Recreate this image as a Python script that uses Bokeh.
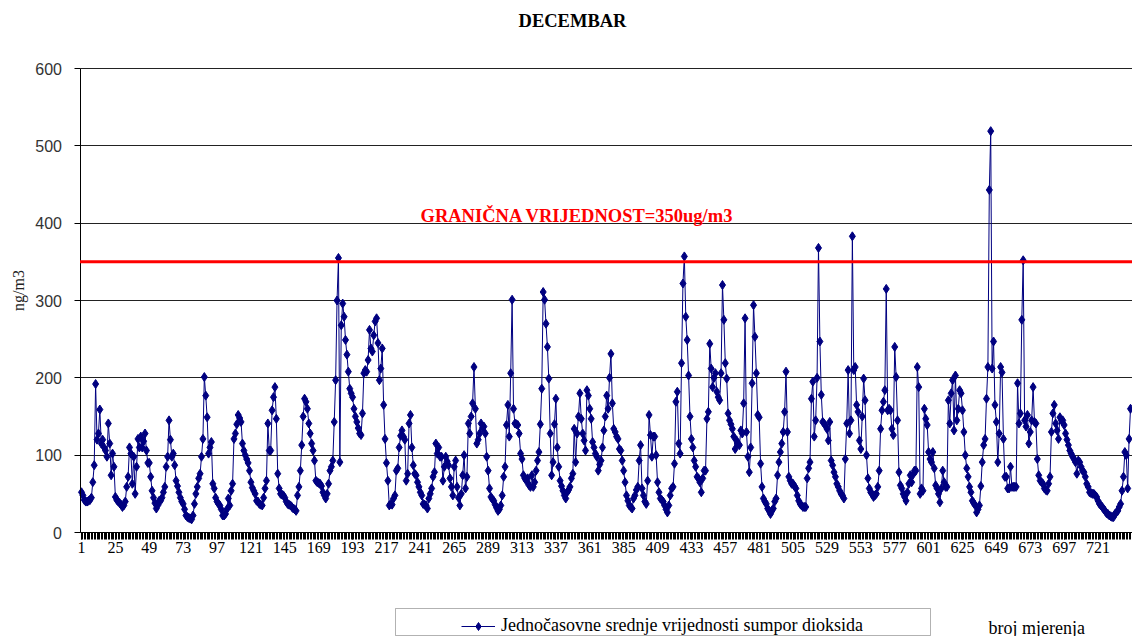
import math
from bokeh.plotting import figure
from bokeh.models import (Label, Legend, LegendItem, FixedTicker, BoxAnnotation,
                          Range1d, ColumnDataSource)
from bokeh.embed import file_html
from bokeh.resources import INLINE

# ---- data: hourly SO2 values, December (24 values per day) ----
day01 = [52, 48, 42, 40, 40, 41, 42, 45, 65, 87, 192, 120, 128, 159, 115, 120, 110, 106, 98, 141, 115, 74, 102, 85]
day02 = [46, 42, 40, 38, 36, 33, 35, 40, 59, 72, 110, 102, 63, 98, 50, 85, 121, 110, 124, 110, 118, 128, 106, 90]
day03 = [90, 72, 54, 45, 38, 31, 35, 41, 41, 45, 52, 59, 85, 98, 145, 120, 98, 102, 87, 67, 60, 52, 45, 40]
day04 = [37, 30, 22, 20, 19, 18, 17, 22, 37, 50, 59, 70, 76, 98, 121, 201, 177, 149, 102, 110, 117, 63, 57, 45]
day05 = [40, 37, 35, 30, 22, 22, 24, 30, 44, 35, 54, 63, 121, 128, 140, 152, 148, 143, 115, 106, 100, 95, 90, 80]
day06 = [65, 58, 54, 50, 41, 40, 37, 36, 35, 45, 57, 67, 141, 106, 106, 158, 175, 188, 147, 76, 57, 50, 49, 48]
day07 = [45, 40, 37, 36, 35, 33, 31, 30, 28, 48, 59, 80, 113, 150, 173, 169, 160, 141, 128, 115, 106, 93, 67, 65]
day08 = [64, 63, 60, 52, 48, 44, 50, 63, 80, 85, 93, 143, 197, 300, 355, 91, 268, 296, 279, 249, 230, 208, 186, 180]
day09 = [175, 160, 150, 143, 135, 128, 126, 154, 206, 210, 208, 223, 262, 238, 234, 255, 273, 277, 245, 197, 212, 238, 165, 121]
day10 = [90, 67, 35, 37, 36, 44, 48, 80, 83, 110, 125, 132, 124, 120, 67, 76, 141, 152, 110, 87, 76, 74, 65, 59]
day11 = [52, 48, 37, 36, 35, 31, 44, 50, 57, 72, 78, 115, 102, 110, 98, 98, 67, 85, 98, 92, 87, 70, 59, 48]
day12 = [85, 93, 59, 45, 35, 50, 74, 100, 57, 72, 141, 128, 150, 167, 214, 160, 115, 120, 128, 141, 135, 137, 128, 98]
day13 = [80, 57, 46, 43, 41, 36, 32, 28, 30, 35, 48, 72, 85, 139, 165, 124, 206, 301, 160, 141, 140, 139, 128, 102]
day14 = [95, 74, 70, 67, 70, 61, 59, 74, 59, 65, 80, 93, 104, 140, 186, 311, 301, 270, 240, 199, 128, 74, 91, 140]
day15 = [173, 110, 85, 67, 60, 54, 48, 44, 52, 55, 59, 70, 76, 134, 91, 128, 150, 180, 147, 128, 119, 106, 184, 177]
day16 = [160, 147, 117, 110, 102, 98, 80, 88, 93, 110, 132, 150, 177, 160, 200, 231, 167, 134, 130, 124, 121, 108, 106, 93]
day17 = [80, 65, 48, 41, 35, 33, 31, 44, 48, 55, 59, 93, 113, 57, 48, 40, 37, 67, 152, 126, 98, 124, 124, 100]
day18 = [65, 52, 44, 42, 40, 35, 30, 26, 35, 48, 57, 59, 89, 169, 182, 115, 102, 219, 322, 357, 279, 249, 203, 150]
day19 = [121, 110, 93, 85, 72, 70, 65, 52, 70, 80, 80, 147, 156, 244, 212, 188, 200, 206, 182, 175, 171, 206, 320, 275]
day20 = [219, 199, 154, 145, 140, 134, 124, 108, 119, 115, 113, 132, 128, 167, 277, 130, 98, 78, 110, 193, 294, 253, 206, 152]
day21 = [149, 89, 59, 44, 40, 37, 31, 28, 24, 28, 31, 40, 44, 74, 91, 104, 115, 130, 156, 208, 130, 72, 67, 63]
day22 = [63, 60, 57, 48, 41, 37, 35, 33, 33, 33, 70, 83, 91, 173, 195, 124, 145, 200, 368, 247, 178, 143, 141, 138]
day23 = [134, 119, 143, 93, 87, 78, 72, 63, 59, 54, 50, 48, 44, 95, 141, 210, 128, 145, 383, 210, 214, 165, 156, 119]
day24 = [108, 150, 199, 171, 100, 70, 57, 52, 50, 46, 48, 50, 59, 80, 134, 158, 169, 184, 315, 158, 160, 158, 134, 126]
day25 = [240, 201, 145, 78, 61, 57, 50, 46, 41, 52, 63, 74, 65, 75, 80, 80, 214, 188, 50, 57, 54, 160, 147, 139]
day26 = [104, 95, 91, 104, 83, 61, 57, 50, 39, 57, 80, 65, 59, 59, 171, 141, 180, 197, 132, 203, 145, 160, 184, 180]
day27 = [158, 130, 100, 83, 72, 59, 52, 41, 38, 35, 26, 30, 35, 60, 91, 113, 121, 173, 214, 443, 519, 212, 247, 165]
day28 = [143, 91, 128, 214, 207, 121, 72, 72, 57, 57, 85, 59, 59, 59, 59, 193, 141, 154, 275, 352, 145, 137, 152, 115]
day29 = [130, 145, 188, 143, 141, 95, 74, 67, 65, 63, 57, 55, 54, 63, 72, 130, 154, 165, 141, 132, 121, 149, 145, 145]
day30 = [139, 128, 120, 113, 106, 102, 98, 95, 91, 76, 93, 91, 85, 80, 78, 72, 63, 59, 52, 51, 50, 50, 48, 46]
day31 = [41, 37, 35, 33, 30, 28, 25, 24, 22, 21, 20, 20, 24, 26, 28, 33, 37, 54, 72, 104, 100, 57, 121, 160]

days = [day01, day02, day03, day04, day05, day06, day07, day08, day09, day10, day11,
        day12, day13, day14, day15, day16, day17, day18, day19, day20, day21, day22,
        day23, day24, day25, day26, day27, day28, day29, day30, day31]
values = [v for d in days for v in d]
hours = list(range(1, len(values) + 1))

x_tick_labels = list(range(1, 745, 24))      # 1, 25, 49, ... 721
y_tick_labels = [0, 100, 200, 300, 400, 500, 600]
limit_value = 350

title_text = "DECEMBAR"
limit_text = "GRANIČNA VRIJEDNOST=350ug/m3"
series_name = "Jednočasovne srednje vrijednosti sumpor dioksida"
y_title = "ng/m3"
x_title = "broj mjerenja"

SERIF = "Liberation Serif"
NAVY = "#000080"

# layout geometry (pixels); the frame covers the whole canvas
W, H = 1132, 636
AXIS_PX = 79.5             # y axis line position
Y0_PX, Y600_PX = 532, 68   # where 0 and 600 sit
X1_PX, X744_PX = 81, 1130  # where hour 1 and hour 744 sit

ky = (Y0_PX - Y600_PX) / 600.0
y_lo = -(H - Y0_PX) / ky
y_hi = 600 + Y600_PX / ky
kx = (X744_PX - X1_PX) / 743.0
x_lo = 1 - X1_PX / kx
x_hi = x_lo + W / kx

def xd(px):   # screen x -> data x
    return x_lo + px / kx

def yd(py):   # screen y -> data y
    return (Y0_PX - py) / ky

x_axis_start = xd(AXIS_PX)

src = ColumnDataSource(data=dict(x=hours, y=values))

p = figure(width=W, height=H, output_backend="svg", toolbar_location=None,
           x_range=Range1d(x_lo, x_hi), y_range=Range1d(y_lo, y_hi),
           min_border_left=0, min_border_right=0, min_border_top=0, min_border_bottom=0)
p.outline_line_color = None
p.background_fill_color = "white"
p.border_fill_color = "white"

# grid (horizontal lines only, from the y axis to the right edge)
p.xgrid.visible = False
p.ygrid.ticker = FixedTicker(ticks=y_tick_labels)
p.ygrid.grid_line_color = "#222222"
p.ygrid.grid_line_width = 1
if "cross_bounds" in p.ygrid.properties():
    p.ygrid.cross_bounds = (x_axis_start, x_hi)
else:
    p.add_layout(BoxAnnotation(right=x_axis_start, fill_color="white", fill_alpha=1,
                               line_color=None, level="underlay"))

# y axis, drawn at the left edge of the data area
ya = p.yaxis[0]
ya.fixed_location = x_axis_start
ya.ticker = FixedTicker(ticks=y_tick_labels)
ya.bounds = (0, 600)
ya.axis_line_color = "black"
ya.major_tick_line_color = "black"
ya.major_tick_out = 6
ya.major_tick_in = 0
ya.minor_tick_line_color = None
ya.major_label_text_font = "Liberation Sans"
ya.major_label_text_font_size = "16px"
ya.major_label_text_color = "#333333"
ya.major_label_standoff = 12

# x axis, drawn at y = 0
xa = p.xaxis[0]
xa.fixed_location = 0
xa.bounds = (x_axis_start, x_hi)
xa.ticker = FixedTicker(ticks=x_tick_labels, minor_ticks=hours)
xa.axis_line_color = "black"
xa.major_tick_line_color = "black"
xa.major_tick_out = 7
xa.major_tick_in = 0
xa.minor_tick_line_color = "black"
xa.minor_tick_out = 7
xa.minor_tick_in = 0
xa.major_label_text_font = SERIF
xa.major_label_text_font_size = "16px"
xa.major_label_text_color = "black"
xa.major_label_standoff = 2

# y axis title
p.add_layout(Label(x=xd(18), y=yd(290), text=y_title, angle=math.pi / 2, text_color="#222222",
                   text_font=SERIF, text_font_size="16px",
                   text_align="center", text_baseline="middle"))

# limit line (3 px thick) and its label
half = 1.5 / ky
p.add_layout(BoxAnnotation(left=x_axis_start, bottom=limit_value - half, top=limit_value + half,
                           fill_color="#ff0000", fill_alpha=1, line_color=None))
p.add_layout(Label(x=xd(420), y=yd(215), text=limit_text, text_color="#ff0000", text_font=SERIF,
                   text_font_size="18.5px", text_font_style="bold", text_baseline="middle"))

# title
p.add_layout(Label(x=xd(572), y=yd(20), text=title_text, text_color="black", text_font=SERIF,
                   text_font_size="18.5px", text_font_style="bold",
                   text_align="center", text_baseline="middle"))

# series
line_r = p.line("x", "y", source=src, line_color=NAVY, line_width=1)
pts_r = p.scatter("x", "y", source=src, marker="diamond", size=9, fill_color=NAVY, line_color=NAVY)

# legend box + legend
p.add_layout(BoxAnnotation(left=xd(395), right=xd(930), top=yd(608), bottom=yd(635),
                           fill_color="white", fill_alpha=1, line_color="black", line_width=1,
                           level="overlay"))
legend = Legend(items=[LegendItem(label=series_name, renderers=[line_r, pts_r])],
                location=(461, 0), orientation="horizontal",
                glyph_width=34, glyph_height=20, label_standoff=6, padding=4, margin=0,
                border_line_color=None, background_fill_alpha=0,
                label_text_font=SERIF, label_text_font_size="18px", label_text_color="black")
p.add_layout(legend, "center")
legend.level = "overlay"

# x-axis title at bottom right
p.add_layout(Label(x=xd(988), y=yd(627), text=x_title, text_color="black", text_font=SERIF,
                   text_font_size="18px", text_baseline="middle"))

open("out.html", "w").write(file_html(p, INLINE))
